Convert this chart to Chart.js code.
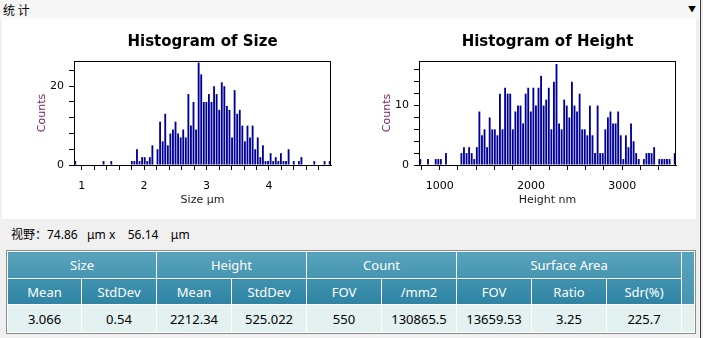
<!DOCTYPE html>
<html>
<head>
<meta charset="utf-8">
<script src="https://cdn.jsdelivr.net/npm/chart.js@4.4.1/dist/chart.umd.min.js"></script>
<style>
  html, body { margin: 0; padding: 0; }
  body {
    width: 703px; height: 338px; position: relative; overflow: hidden;
    background: #f0f0f0;
    font-family: "Noto Sans", "Noto Sans CJK SC", sans-serif;
  }
  #topbar { position: absolute; left: 0; top: 0; width: 700px; height: 19px; background: #f7f7f7; }
  #topbar .label { position: absolute; left: 3px; top: 1px; font: 12px "Noto Sans CJK SC"; color: #000; }
  #topbar .arrow { position: absolute; left: 688px; top: 3px; font-size: 8px; color: #000; }
  #edge { position: absolute; left: 700px; top: 0; width: 1px; height: 338px; background: #3a3a3a; }
  #panel { position: absolute; left: 2px; top: 19px; width: 694px; height: 200px; background: #fff; }
  canvas { position: absolute; top: 21px; }
  #sizeChart { left: 0; }
  #heightChart { left: 350px; }
  #fov { position: absolute; left: 11px; top: 225px; font-size: 12px; color: #000; white-space: pre; }
  #statsWrap { position: absolute; left: 6px; top: 250px; border: 1px solid #8c8c8c; background: #fff; }
  table { border-collapse: collapse; table-layout: fixed; width: 687px; font-size: 13px; }
  td { border: 1px solid #fff; padding: 0; text-align: center; }
  tr.h1 td { height: 26px; color: #fff; background: linear-gradient(#59a4bc, #4694b1); }
  tr.h2 td { height: 25px; color: #fff; background: linear-gradient(#3f92b0, #2f84a3); }
  td.corner { color: #fff; background: linear-gradient(#59a4bc, #2f84a3); }
  tr.d td { height: 27px; color: #000; background: #e3f1f1; }
</style>
</head>
<body>
<div id="topbar"><span class="label">统 计</span><span class="arrow">▼</span></div>
<div id="edge"></div>
<div id="panel"></div>
<canvas id="sizeChart" width="350" height="198"></canvas>
<canvas id="heightChart" width="350" height="198"></canvas>
<div id="fov">视野：74.86   μm x    56.14    μm</div>
<div id="statsWrap">
<table>
  <colgroup>
    <col style="width:74px"><col style="width:75px"><col style="width:75px"><col style="width:75px">
    <col style="width:75px"><col style="width:75px"><col style="width:75px"><col style="width:75px">
    <col style="width:75px"><col style="width:13px">
  </colgroup>
  <tr class="h1"><td colspan="2">Size</td><td colspan="2">Height</td><td colspan="2">Count</td><td colspan="3">Surface Area</td><td class="corner" rowspan="2"></td></tr>
  <tr class="h2"><td>Mean</td><td>StdDev</td><td>Mean</td><td>StdDev</td><td>FOV</td><td>/mm2</td><td>FOV</td><td>Ratio</td><td>Sdr(%)</td></tr>
  <tr class="d"><td>3.066</td><td>0.54</td><td>2212.34</td><td>525.022</td><td>550</td><td>130865.5</td><td>13659.53</td><td>3.25</td><td>225.7</td><td></td></tr>
</table>
</div>

<script>
// histogram counts, 100 equal bins spanning each x range
const sizeRange = [0.877, 4.993];
const sizeCounts = [
  1, 0, 0, 0, 0, 0, 0, 0, 0, 0,
  0, 1, 0, 0, 1, 0, 0, 0, 0, 0,
  0, 0, 1, 1, 4, 1, 2, 2, 1, 2,
  5, 0, 4, 11, 6, 13, 5, 8, 9, 11,
  8, 7, 9, 7, 18, 10, 16, 9, 26, 23,
  16, 16, 18, 16, 20, 18, 14, 21, 20, 15,
  14, 7, 19, 13, 14, 10, 6, 10, 7, 10,
  4, 7, 2, 5, 1, 1, 3, 1, 2, 1,
  3, 1, 1, 4, 0, 1, 0, 1, 2, 0,
  0, 0, 0, 1, 0, 0, 0, 1, 0, 1
];
const sizeXMajor = [1, 2, 3, 4];
const sizeYMajor = [0, 20];

const heightRange = [773, 3589];
const heightCounts = [
  1, 0, 0, 1, 0, 0, 1, 1, 1, 0,
  2, 0, 0, 0, 0, 0, 2, 3, 2, 3,
  2, 1, 3, 9, 5, 6, 3, 8, 6, 6,
  5, 12, 6, 13, 12, 12, 6, 9, 10, 10,
  7, 12, 13, 9, 13, 10, 13, 15, 10, 11,
  13, 6, 14, 17, 7, 6, 11, 10, 8, 14,
  10, 9, 12, 6, 6, 5, 10, 5, 2, 10,
  2, 2, 6, 8, 9, 7, 7, 9, 5, 1,
  5, 3, 7, 4, 2, 1, 0, 1, 2, 2,
  2, 3, 0, 1, 1, 1, 1, 1, 0, 2
];
const heightXMajor = [1000, 2000, 3000];
const heightYMajor = [0, 10];

const BAR_COLOR = "#000099";
const TICK_FONT = { family: "DejaVu Sans", size: 11 };

// draws the box round the plot area
const framePlugin = {
  id: "frame",
  afterDatasetsDraw(chart) {
    const { ctx, chartArea: a } = chart;
    ctx.save();
    ctx.strokeStyle = "#000";
    ctx.lineWidth = 1;
    ctx.strokeRect(Math.round(a.left) + 0.5, Math.round(a.top) + 0.5,
      Math.round(a.right - a.left) - 1, Math.round(a.bottom - a.top));
    ctx.restore();
  }
};

function stepTicks(min, max, step) {
  const out = [];
  const first = Math.ceil(min / step - 1e-9) * step;
  for (let v = first; v <= max + 1e-9; v += step) out.push({ value: Math.round(v * 1000) / 1000 });
  return out;
}

function buildHistogram(id, cfg) {
  const [lo, hi] = cfg.range;
  const w = (hi - lo) / cfg.counts.length;
  const points = cfg.counts.map((c, i) => ({ x: lo + (i + 0.5) * w, y: c }));

  new Chart(document.getElementById(id), {
    type: "bar",
    data: {
      datasets: [{
        data: points,
        backgroundColor: BAR_COLOR,
        borderWidth: 0,
        barPercentage: 0.72,
        categoryPercentage: 1
      }]
    },
    options: {
      responsive: false,
      animation: false,
      layout: { padding: { left: 0, right: cfg.padRight, top: 0, bottom: 0 } },
      plugins: {
        legend: { display: false },
        tooltip: { enabled: false },
        title: {
          display: true,
          text: cfg.title,
          fullSize: false,
          color: "#000",
          font: { family: "DejaVu Sans", size: 15, weight: "bold", lineHeight: 1.2 },
          padding: { top: 12, bottom: 10 }
        }
      },
      scales: {
        x: {
          type: "linear",
          min: lo, max: hi,
          offset: false,
          grid: { offset: false, drawOnChartArea: false, drawTicks: true, tickLength: 5, tickColor: "#000" },
          border: { color: "#000" },
          afterBuildTicks: s => { s.ticks = stepTicks(lo, hi, cfg.xStep); },
          afterFit: s => { s.height = 54; },
          ticks: {
            autoSkip: false, maxRotation: 0, padding: 10,
            color: "#000", font: TICK_FONT,
            callback: v => cfg.xMajor.includes(v) ? String(v) : ""
          },
          title: {
            display: true, text: cfg.xTitle, color: "#1a1a1a", font: TICK_FONT,
            padding: { top: 0, bottom: 12 }
          }
        },
        y: {
          min: 0, max: cfg.yMax,
          grid: { drawOnChartArea: false, drawTicks: true, tickLength: 5, tickColor: "#000" },
          border: { color: "#000" },
          afterBuildTicks: s => { s.ticks = stepTicks(0, cfg.yMax, cfg.yStep); },
          afterFit: s => { s.width = cfg.yWidth; },
          ticks: {
            autoSkip: false, padding: 5,
            color: "#000", font: TICK_FONT,
            callback: v => cfg.yMajor.includes(v) ? String(v) : ""
          },
          title: {
            display: true, text: "Counts", color: "#7a1f66", font: TICK_FONT,
            padding: { top: cfg.yTitlePad, bottom: 0 }
          }
        }
      }
    },
    plugins: [framePlugin]
  });
}

buildHistogram("sizeChart", {
  title: "Histogram of Size", xTitle: "Size μm",
  counts: sizeCounts, range: sizeRange,
  xMajor: sizeXMajor, xStep: 0.2,
  yMax: 26.4, yMajor: sizeYMajor, yStep: 4,
  yWidth: 74, padRight: 19, yTitlePad: 36
});

buildHistogram("heightChart", {
  title: "Histogram of Height", xTitle: "Height nm",
  counts: heightCounts, range: heightRange,
  xMajor: heightXMajor, xStep: 200,
  yMax: 17.5, yMajor: heightYMajor, yStep: 2,
  yWidth: 69, padRight: 24, yTitlePad: 31
});
</script>
</body>
</html>
